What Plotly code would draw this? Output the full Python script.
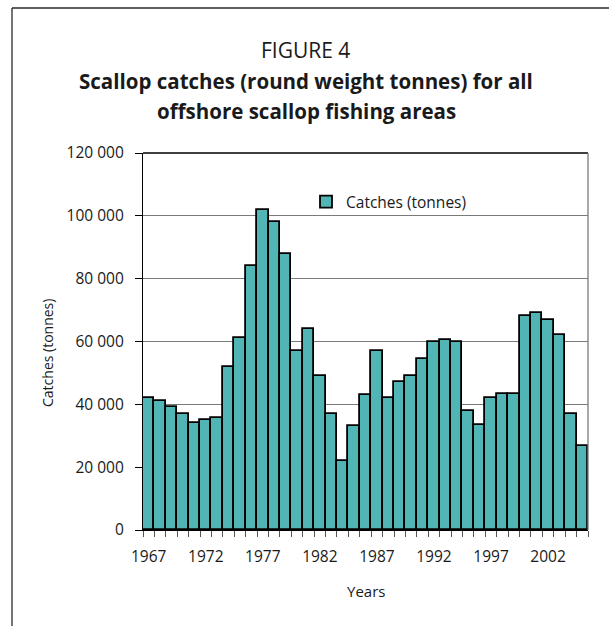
import plotly.graph_objects as go

# Offshore scallop catches, round weight tonnes
years = list(range(1967, 2006))
catches = [
    42000, 41000, 39000, 37000, 34000, 35000, 35500, 52000, 61000, 84000,
    102000, 98000, 88000, 57000, 64000, 49000, 37000, 22000, 33000, 43000,
    57000, 42000, 47000, 49000, 54500, 59700, 60600, 59900, 38000, 33500,
    42000, 43200, 43200, 68000, 69100, 67000, 62200, 37000, 26800,
]
y_ticks = [0, 20000, 40000, 60000, 80000, 100000, 120000]
x_ticks = list(range(1967, 2006, 5))

W, H = 609, 626
L, R, T, B = 143, 21, 153, 96
FONT = "Open Sans"
TEAL = "#52B5B5"


def px(x):
    return (x - L) / (W - L - R)


def py(y):
    return (H - B - y) / (H - T - B)


fig = go.Figure()
fig.add_trace(go.Bar(
    x=years, y=catches, name="Catches (tonnes)",
    marker=dict(color=TEAL, line=dict(color="black", width=1.8)),
    showlegend=True,
))

fig.update_layout(
    width=W, height=H,
    margin=dict(l=L, r=R, t=T, b=B, pad=0),
    paper_bgcolor="white", plot_bgcolor="white",
    separators=". ",
    bargap=0,
    font=dict(family=FONT, size=15, color="#1a1a1a"),
    showlegend=True,
    legend=dict(
        x=px(306), y=py(185), xanchor="left", yanchor="top",
        bgcolor="rgba(0,0,0,0)", font=dict(size=15.5),
        itemwidth=30, tracegroupgap=0,
    ),
)

fig.update_xaxes(
    range=[years[0] - 0.5, years[-1] + 0.5],
    tickmode="array", tickvals=x_ticks,
    ticks="outside", ticklen=6, tickcolor="rgba(0,0,0,0)",
    ticklabelstandoff=6,
    tickfont=dict(size=15.5),
    showgrid=False, zeroline=False,
    showline=True, linecolor="black", linewidth=1.3,
    minor=dict(
        tickmode="array",
        tickvals=[y - 0.5 for y in years] + [years[-1] + 0.5],
        ticks="outside", ticklen=6, tickcolor="#555555", tickwidth=1,
        showgrid=False,
    ),
)

fig.update_yaxes(
    range=[0, 120000],
    tickmode="array", tickvals=y_ticks, tickformat=",d",
    ticks="outside", ticklen=7, tickcolor="black", tickwidth=1,
    ticklabelstandoff=8,
    tickfont=dict(size=15.5),
    showgrid=True, gridcolor="#7a7a7a", gridwidth=1,
    zeroline=False,
    showline=True, linecolor="black", linewidth=1.3,
)

line_shapes = [
    # top edge of plot area
    dict(type="line", xref="paper", yref="paper", x0=0, x1=1, y0=1, y1=1,
         line=dict(color="black", width=1.3)),
    # right edge of plot area
    dict(type="line", xref="paper", yref="paper", x0=1, x1=1, y0=0, y1=1,
         line=dict(color="#7a7a7a", width=1.3)),
    # 60 000 reference line drawn darker
    dict(type="line", xref="paper", yref="y", x0=0, x1=1, y0=60000, y1=60000,
         line=dict(color="black", width=1), layer="below"),
    # outer frame around the figure
    dict(type="line", xref="paper", yref="paper",
         x0=px(12), x1=px(W + 5), y0=py(8), y1=py(8),
         line=dict(color="#2a2a2a", width=1.3)),
    dict(type="line", xref="paper", yref="paper",
         x0=px(12), x1=px(12), y0=py(8), y1=py(H + 5),
         line=dict(color="#2a2a2a", width=1.3)),
]
fig.update_layout(shapes=line_shapes)

annotations = [
    dict(text="FIGURE 4", x=px(305), y=py(50), font=dict(size=21)),
    dict(text="<b>Scallop catches (round weight tonnes) for all</b>",
         x=px(306), y=py(81), font=dict(size=20.5)),
    dict(text="<b>offshore scallop fishing areas</b>",
         x=px(306), y=py(111), font=dict(size=20.5)),
    dict(text="Years", x=px(366), y=py(591), font=dict(size=15)),
    dict(text="Catches (tonnes)", x=px(47), y=py(353), textangle=-90,
         font=dict(size=14)),
]
for a in annotations:
    a.update(xref="paper", yref="paper", showarrow=False,
             xanchor="center", yanchor="middle")
fig.update_layout(annotations=annotations)

fig.write_html("out.html")
